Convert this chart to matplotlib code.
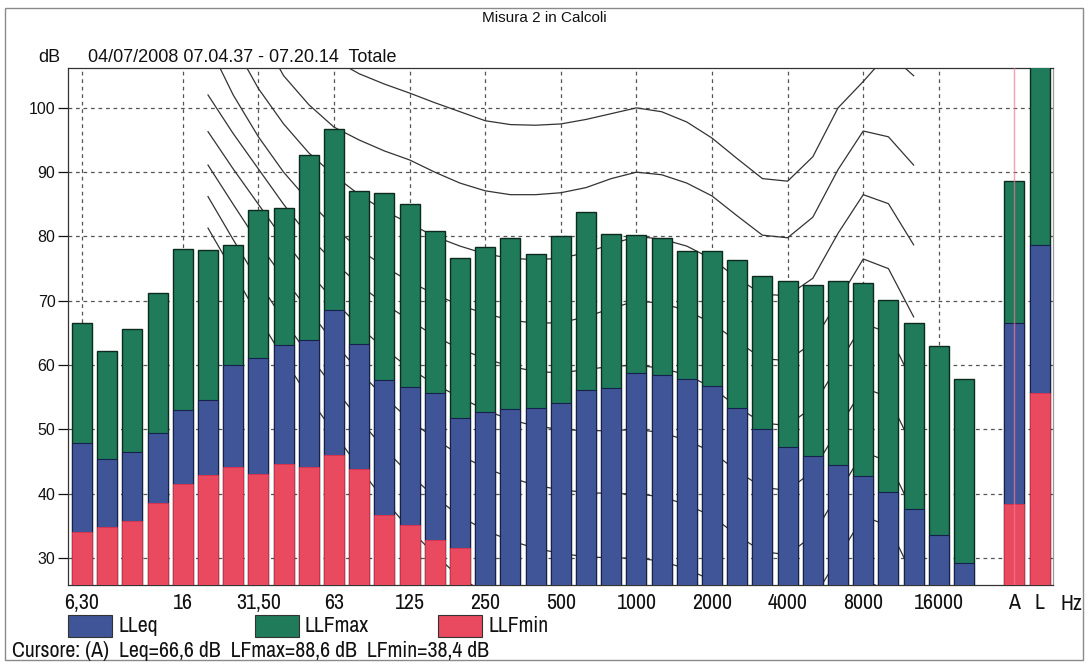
import matplotlib
matplotlib.use("Agg")
import matplotlib.pyplot as plt
from matplotlib.patches import Rectangle

# ---------------- data ----------------
bands = ['6,3', '8', '10', '12,5', '16', '20', '25', '31,5', '40', '50', '63', '80',
         '100', '125', '160', '200', '250', '315', '400', '500', '630', '800', '1000',
         '1250', '1600', '2000', '2500', '3150', '4000', '5000', '6300', '8000',
         '10000', '12500', '16000', '20000']
totals = ['A', 'L']

llfmax = [66.6, 62.2, 65.6, 71.2, 78.1, 77.9, 78.7, 84.1, 84.4, 92.7, 96.7, 87.1,
          86.8, 85.1, 80.9, 76.7, 78.4, 79.8, 77.3, 80.1, 83.8, 80.4, 80.3,
          79.7, 77.8, 77.8, 76.4, 73.8, 73.0, 72.4, 73.1, 72.7,
          70.1, 66.6, 62.9, 57.9]
lleq = [47.9, 45.4, 46.5, 49.5, 53.0, 54.6, 60.0, 61.1, 63.1, 63.9, 68.6, 63.3,
        57.7, 56.6, 55.7, 51.8, 52.7, 53.2, 53.3, 54.1, 56.1, 56.4, 58.8,
        58.5, 57.9, 56.8, 53.3, 50.1, 47.3, 45.9, 44.5, 42.8,
        40.3, 37.6, 33.6, 29.2]
llfmin = [34.0, 34.8, 35.8, 38.6, 41.5, 42.9, 44.2, 43.1, 44.6, 44.2, 46.0, 43.9,
          36.7, 35.1, 32.8, 31.6, 25.0, 24.6, 24.3, 24.1, 24.2, 24.0, 23.8,
          23.5, 23.0, 22.6, 22.0, 21.4, 20.8, 20.2, 19.6, 19.0,
          18.4, 17.8, 17.2, 16.5]
total_max = [88.6, 109.8]
total_eq = [66.6, 78.6]
total_min = [38.4, 55.7]

tick_labels = ['6,30', '16', '31,50', '63', '125', '250', '500', '1000', '2000',
               '4000', '8000', '16000']

# loudness contours, values from 20 Hz to 12500 Hz
contour_bands = bands[5:34]
contour_100 = [135, 128, 121, 115, 111, 107.5, 105.3, 103.7, 102.3, 100.8, 99.4, 98.0,
               97.4, 97.3, 97.5, 98.2, 99.1, 100.0, 99.4, 97.8, 95.3, 92.1, 89.0,
               88.6, 92.4, 100.0, 104.1, 108.5, 105.0]
contour_90 = [128, 120, 112, 105, 100.5, 97.0, 95.0, 93.3, 91.9, 90.0, 88.3, 87.1,
              86.5, 86.5, 86.8, 87.6, 89.0, 90.0, 89.6, 88.3, 86.3, 83.2, 80.2,
              79.8, 83.0, 90.4, 96.4, 95.5, 91.1]
contour_80 = [118, 110, 103, 97.5, 93.0, 89.5, 86.5, 84.0, 82.0, 80.0, 78.5, 77.3,
              76.6, 76.4, 76.6, 77.5, 78.8, 80.0, 79.6, 78.5, 76.5, 73.5, 71.0,
              70.8, 73.5, 80.5, 86.5, 85.1, 78.7]
contour_70 = [110, 102, 95.5, 90.0, 85.5, 81.5, 78.0, 75.3, 73.0, 71.0, 69.3, 68.0,
              67.0, 66.5, 66.6, 67.5, 68.8, 70.0, 69.6, 68.5, 66.5, 63.7, 61.0,
              60.7, 63.5, 70.0, 76.5, 75.0, 67.5]
contour_60 = [102, 96.0, 90.5, 85.0, 80.0, 76.0, 72.5, 69.5, 67.0, 64.5, 62.5, 61.0,
              59.8, 59.0, 58.8, 59.3, 59.8, 60.0, 59.5, 58.5, 56.5, 53.5, 51.0,
              50.6, 53.5, 60.0, 66.5, 65.0, 57.0]
contour_50 = [96.3, 90.5, 85.0, 79.5, 74.5, 70.0, 66.0, 62.5, 59.5, 57.0, 55.0, 53.0,
              51.5, 50.5, 50.0, 49.8, 49.8, 50.0, 49.5, 48.3, 46.5, 43.5, 41.0,
              40.5, 43.5, 50.0, 56.5, 55.0, 47.0]
contour_40 = [91.1, 85.0, 79.0, 73.5, 68.5, 63.5, 59.0, 55.0, 51.5, 48.5, 46.0, 44.0,
              42.5, 41.3, 40.6, 40.2, 40.0, 40.0, 39.5, 38.3, 36.5, 33.5, 31.0,
              30.5, 33.5, 40.0, 46.5, 45.0, 37.0]
contour_30 = [86.2, 79.5, 73.0, 67.0, 61.5, 56.5, 51.5, 47.0, 43.0, 39.5, 36.5, 34.3,
              32.7, 31.5, 30.7, 30.2, 30.0, 30.0, 29.5, 28.3, 26.5, 23.5, 21.0,
              20.5, 23.5, 30.0, 36.5, 35.0, 27.0]
contour_20 = [81.3, 74.5, 67.5, 61.0, 55.0, 49.5, 44.0, 39.0, 34.5, 30.5, 27.0, 24.5,
              22.7, 21.5, 20.7, 20.2, 20.0, 20.0, 19.5, 18.3, 16.5, 13.5, 11.0,
              10.5, 13.5, 20.0, 26.5, 25.0, 17.0]
contours = [contour_100, contour_90, contour_80, contour_70, contour_60,
            contour_50, contour_40, contour_30, contour_20]

cursor_text = "Cursore: (A)  Leq=66,6 dB  LFmax=88,6 dB  LFmin=38,4 dB"

# ---------------- style ----------------
C_MAX = '#1f7b5a'
C_EQ = '#3f5597'
C_MIN = '#ea4a5f'
GRID = '#555555'
REG = ['Liberation Sans', 'DejaVu Sans']
NARROW = ['Archivo Narrow', 'DejaVu Sans']
NFS = 15.7

fig = plt.figure(figsize=(10.88, 6.66), dpi=100)
ax = fig.add_axes([68 / 1088, 1 - 585 / 666, (1053 - 68) / 1088, (585 - 68) / 666])

n = len(bands)
xb = list(range(n))
xt = [n + 1 + k for k in range(len(totals))]
xall = xb + xt
vmax = llfmax + total_max
veq = lleq + total_eq
vmin = llfmin + total_min

w = 0.79
ax.bar(xall, vmax, width=w, color=C_MAX, edgecolor='#0c2a1e', linewidth=1.0, zorder=3)
ax.bar(xall, veq, width=w, color=C_EQ, edgecolor='#16204a', linewidth=0.8, zorder=4)
ax.bar(xall, vmin, width=w, color=C_MIN, edgecolor='#e03048', linewidth=0.6, zorder=5)

# contours (behind bars)
xc = [bands.index(b) for b in contour_bands]
for c in contours:
    ax.plot(xc, c, color='#333333', linewidth=0.9, zorder=2.5)

# grid
tick_pos = [bands.index(t.replace(',30', ',3').replace(',50', ',5')) for t in tick_labels]
for xp in tick_pos:
    ax.axvline(xp, color=GRID, linestyle=(0, (3, 3)), linewidth=0.9, zorder=1)
for yv in range(30, 101, 10):
    ax.axhline(yv, color=GRID, linestyle=(0, (3, 3)), linewidth=0.9, zorder=1)

# cursor on A
ax.axvline(xt[0], color='#f07a92', linewidth=1.0, alpha=0.7, zorder=6)

ax.set_xlim(-0.556, 38.53)
ax.set_ylim(25.8, 106.2)
ax.set_xticks(tick_pos + xt)
ax.set_xticklabels(tick_labels + totals, family=NARROW, fontsize=NFS)
ax.set_yticks(range(30, 101, 10))
ax.set_yticklabels([str(v) for v in range(30, 101, 10)], family=REG, fontsize=11.5)
ax.tick_params(axis='x', length=0, pad=6, colors='#111111')
ax.tick_params(axis='y', length=7, width=0.9, pad=2, colors='#111111')
for s in ax.spines.values():
    s.set_color('#333333')
    s.set_linewidth(0.9)
ax.spines['right'].set_color('#999999')

# texts
fig.text(0.5, 1 - 18 / 666, 'Misura 2 in Calcoli', ha='center', va='center',
         family=REG, fontsize=11, color='#111111')
fig.text(49 / 1088, 1 - 58 / 666, 'dB', ha='center', va='center', family=REG,
         fontsize=13, color='#111111')
fig.text(88 / 1088, 1 - 58 / 666, '04/07/2008 07.04.37 - 07.20.14  Totale',
         ha='left', va='center', family=REG, fontsize=13, color='#111111')
fig.text(1071 / 1088, 1 - 604 / 666, 'Hz', ha='center', va='center',
         family=NARROW, fontsize=NFS, color='#111111')

# legend swatches
leg = [(68, 'LLeq', C_EQ), (255, 'LLFmax', C_MAX), (438, 'LLFmin', C_MIN)]
for x0, lab, col in leg:
    fig.add_artist(Rectangle((x0 / 1088, 1 - 637 / 666), 44 / 1088, 22 / 666,
                             transform=fig.transFigure, facecolor=col,
                             edgecolor='#333333', linewidth=0.8))
    fig.text((x0 + 50) / 1088, 1 - 626 / 666, lab, ha='left', va='center',
             family=NARROW, fontsize=NFS, color='#111111')
fig.text(12 / 1088, 1 - 651 / 666, cursor_text, ha='left', va='center',
         family=NARROW, fontsize=NFS, color='#111111')

# outer frame
fig.add_artist(Rectangle((5 / 1088, 1 - 660 / 666), 1078 / 1088, 652 / 666,
                         transform=fig.transFigure, fill=False,
                         edgecolor='#8a8a8a', linewidth=1.0))

fig.savefig('out.png', dpi=100)
